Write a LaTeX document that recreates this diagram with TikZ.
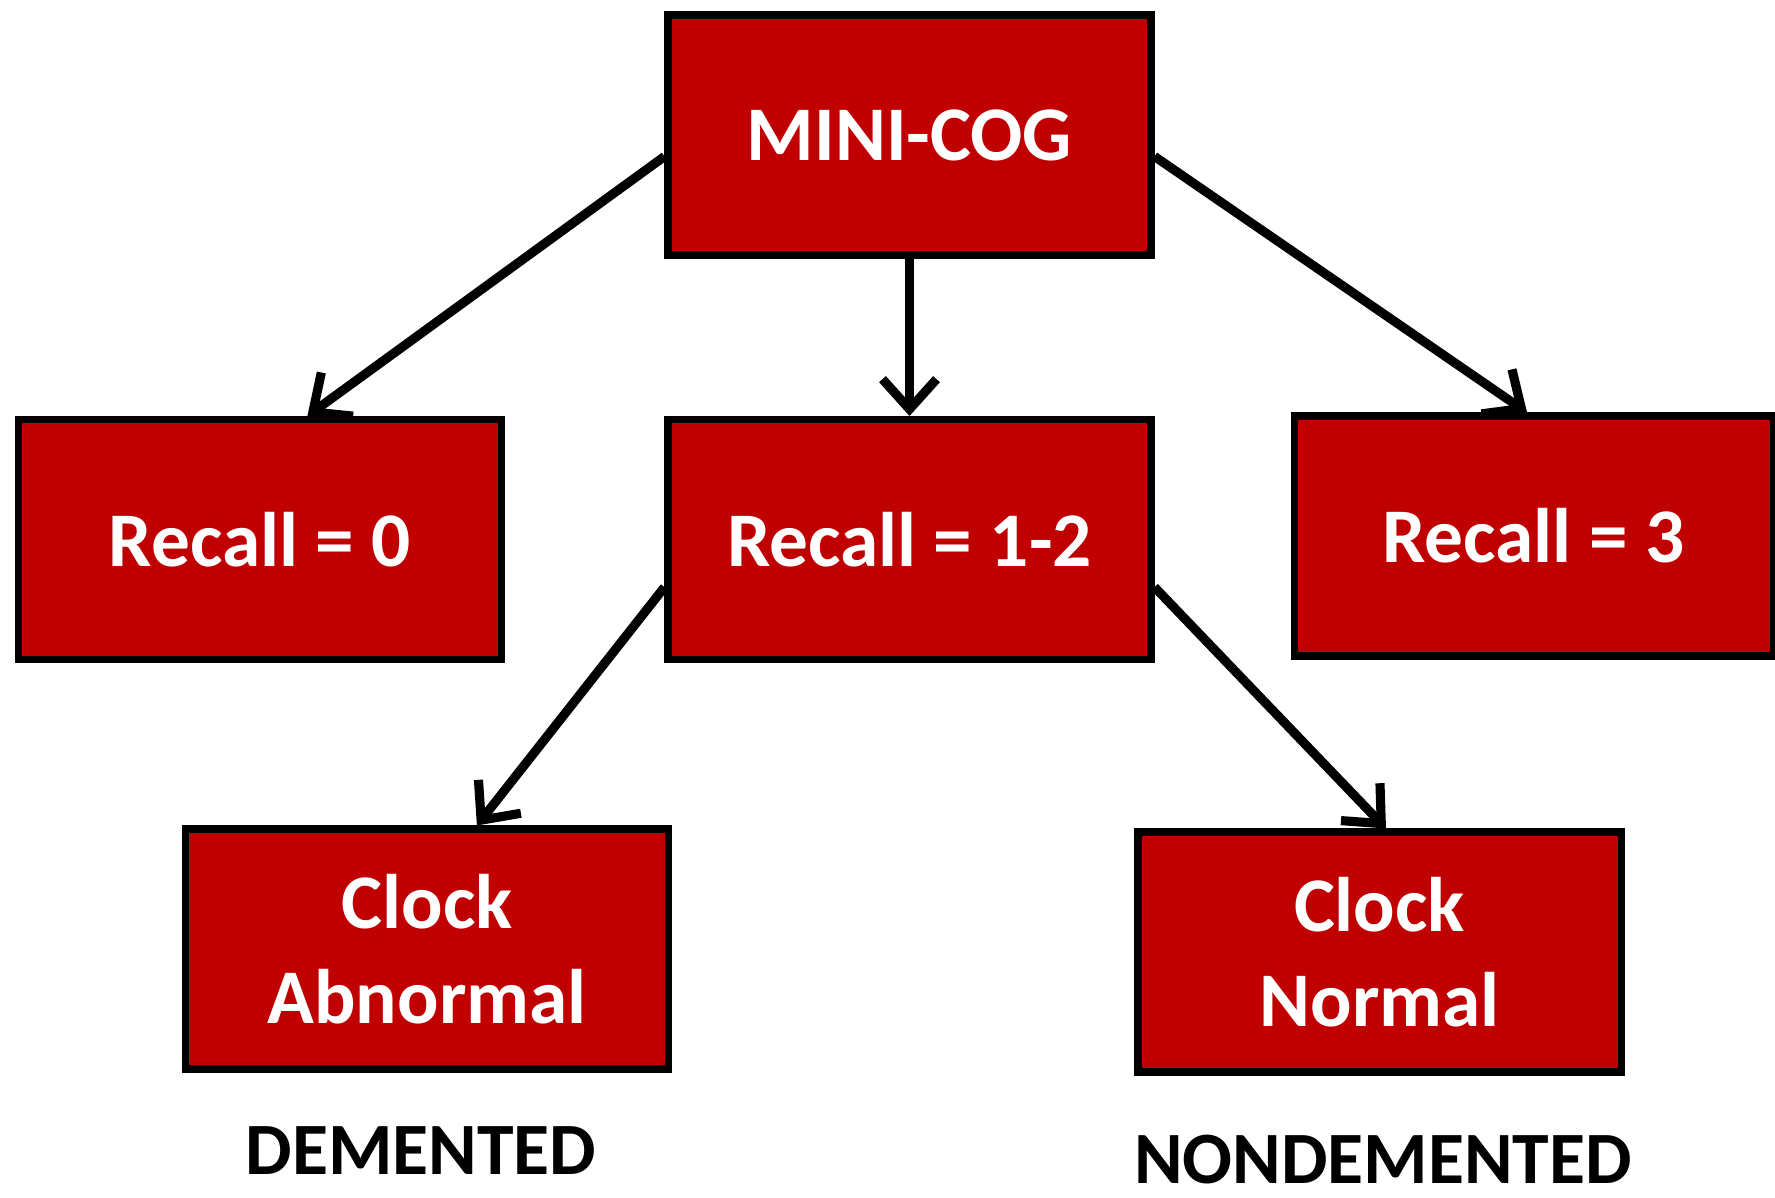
\documentclass[tikz,border=0pt]{standalone}
\usepackage{fontspec}
\setmainfont{Carlito}
\usetikzlibrary{arrows.meta}
\definecolor{cogred}{HTML}{C00000}
\tikzset{
  box/.style={draw=black, line width=2pt, fill=cogred, text=white,
    font=\fontsize{22}{27}\selectfont\bfseries, align=center,
    minimum width=4.83cm, minimum height=2.4cm, inner sep=0pt},
  verdict/.style={font=\fontsize{21}{25}\selectfont\bfseries, text=black},
  link/.style={line width=2.6pt, -{Straight Barb[length=3mm,width=5.4mm,line width=2.6pt]}}
}
\begin{document}
\begin{tikzpicture}
\useasboundingbox (0,0) rectangle (17.75,-11.98);
\node[box] (mini) at (9.095,-1.35) {MINI-COG};
\node[box] (r0) at (2.60,-5.395) {Recall = 0};
\node[box] (r12) at (9.095,-5.395) {Recall = 1-2};
\node[box, minimum width=4.79cm] (r3) at (15.335,-5.36) {Recall = 3};
\node[box] (abn) at (4.27,-9.49) {Clock\\Abnormal};
\node[box] (nrm) at (13.795,-9.52) {Clock\\Normal};
\node[verdict] (dem) at (4.21,-11.51) {DEMENTED};
\node[verdict] (nondem) at (13.83,-11.6) {NONDEMENTED};
\draw[link] (mini.185) -- (r0.69);
\draw[link] (mini.south) -- (r12.north);
\draw[link] (mini.355) -- (r3.93);
\draw[link] (r12.191) -- (abn.68);
\draw[link] (r12.349) -- (nrm.87);
\end{tikzpicture}
\end{document}
